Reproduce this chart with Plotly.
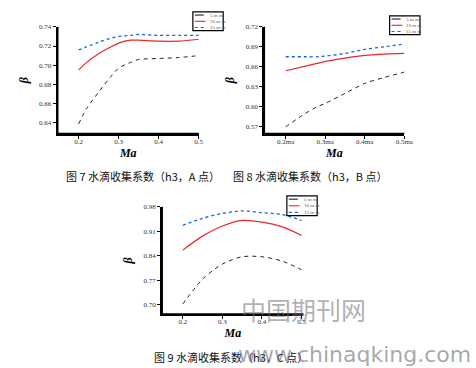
import plotly.graph_objects as go

W, H = 476, 368

# ---------------- data ----------------
series_names = ["5 m m", "10 m m", "15 m m"]

ma_1 = [0.20, 0.22, 0.25, 0.28, 0.30, 0.33, 0.35, 0.40, 0.45, 0.50]
a_5mm = [0.639, 0.655, 0.672, 0.688, 0.697, 0.703, 0.706, 0.707, 0.708, 0.710]
a_10mm = [0.695, 0.703, 0.712, 0.719, 0.723, 0.726, 0.726, 0.725, 0.725, 0.727]
a_15mm = [0.716, 0.719, 0.724, 0.728, 0.730, 0.731, 0.732, 0.731, 0.731, 0.731]

ma_2 = [0.20, 0.25, 0.28, 0.30, 0.35, 0.40, 0.45, 0.50]
b_5mm = [0.570, 0.590, 0.600, 0.605, 0.620, 0.635, 0.644, 0.652]
b_10mm = [0.654, 0.661, 0.665, 0.668, 0.673, 0.677, 0.679, 0.680]
b_15mm = [0.675, 0.675, 0.675, 0.676, 0.680, 0.686, 0.690, 0.694]

ma_3 = [0.20, 0.25, 0.30, 0.35, 0.40, 0.45, 0.50]
c_5mm = [0.702, 0.773, 0.816, 0.837, 0.837, 0.825, 0.800]
c_10mm = [0.856, 0.896, 0.925, 0.941, 0.936, 0.923, 0.898]
c_15mm = [0.927, 0.947, 0.961, 0.968, 0.963, 0.958, 0.941]

x_ticks = [0.2, 0.3, 0.4, 0.5]
x_labels_1 = ["0.2", "0.3", "0.4", "0.5"]
x_labels_2 = ["0.2ma", "0.3ma", "0.4ma", "0.5ma"]
y_ticks_1 = [0.64, 0.66, 0.68, 0.70, 0.72, 0.74]
y_ticks_2 = [0.57, 0.60, 0.63, 0.66, 0.69, 0.72]
y_ticks_3 = [0.70, 0.77, 0.84, 0.91, 0.98]

captions = ["图 7 水滴收集系数（h3，A 点）", "图 8 水滴收集系数（h3，B 点）", "图 9 水滴收集系数（h3，C 点）"]

# ---------------- styles ----------------
styles = [dict(color="#222222", dash="4px,4px", width=1.0),
          dict(color="#e8282e", dash="solid", width=1.2),
          dict(color="#1565d8", dash="dot", width=1.3)]

SERIF = "Liberation Serif"
CJK = "Noto Sans CJK SC"

fig = go.Figure()

panels = [
    ("x", "y", ma_1, [a_5mm, a_10mm, a_15mm]),
    ("x2", "y2", ma_2, [b_5mm, b_10mm, b_15mm]),
    ("x3", "y3", ma_3, [c_5mm, c_10mm, c_15mm]),
]
for xa, ya, xs, ys_list in panels:
    for name, ys, st in zip(series_names, ys_list, styles):
        fig.add_trace(go.Scatter(x=xs, y=ys, mode="lines", name=name,
                                 line=dict(shape="spline", smoothing=0.8, **st),
                                 xaxis=xa, yaxis=ya, showlegend=False))

def px_x(p):
    return p / W

def px_y(p):
    return 1 - p / H

# axes domains (pixels)
dom = {
    1: (59, 203, 23, 131),
    2: (270, 413, 23, 131),
    3: (165.7, 310, 205, 313.3),
}

axis_common = dict(showline=True, linecolor="#000000", linewidth=2, showgrid=False,
                   zeroline=False, ticks="outside", ticklen=3, tickwidth=1.2,
                   tickcolor="#000000", tickfont=dict(family=SERIF, size=7, color="#333"))

def xaxis(i, rng, labels):
    x0, x1, y0, y1 = dom[i]
    return dict(domain=[px_x(x0), px_x(x1)], range=rng, tickvals=x_ticks,
                ticktext=labels, anchor="y" if i == 1 else f"y{i}",
                ticklabelstandoff=-3,
                title=dict(text="<b><i>Ma</i></b>", font=dict(family=SERIF, size=12, color="black"),
                           standoff=0),
                **axis_common)

def yaxis(i, rng, ticks):
    x0, x1, y0, y1 = dom[i]
    return dict(domain=[px_y(y1), px_y(y0)], range=rng, tickvals=ticks,
                tickformat=".2f", anchor="x" if i == 1 else f"x{i}",
                title=dict(text="<b><i>β</i></b>", font=dict(family=SERIF, size=12, color="black"),
                           standoff=8),
                **axis_common)

fig.update_layout(
    width=W, height=H, margin=dict(l=0, r=0, t=0, b=0),
    paper_bgcolor="white", plot_bgcolor="white", showlegend=False,
    xaxis=xaxis(1, [0.148, 0.5], x_labels_1),
    yaxis=yaxis(1, [0.629, 0.74], y_ticks_1),
    xaxis2=xaxis(2, [0.146, 0.5], x_labels_2),
    yaxis2=yaxis(2, [0.5597, 0.72], y_ticks_2),
    xaxis3=xaxis(3, [0.148, 0.505], x_labels_1),
    yaxis3=yaxis(3, [0.6735, 0.98], y_ticks_3),
)

shapes = []
annotations = []

# axis frame lines (left and bottom edges of each panel, in page coordinates)
for (ax0, ax1, ay0, ay1) in dom.values():
    shapes.append(dict(type="line", xref="paper", yref="paper",
                       x0=px_x(ax0), x1=px_x(ax1), y0=px_y(ay1), y1=px_y(ay1),
                       line=dict(color="black", width=1.5), layer="above"))
    shapes.append(dict(type="line", xref="paper", yref="paper",
                       x0=px_x(ax0), x1=px_x(ax0), y0=px_y(ay1), y1=px_y(ay0),
                       line=dict(color="black", width=1.5), layer="above"))

# custom small legends (box pixel positions)
legend_boxes = [(197, 8, 228, 27), (398, 12, 429, 31), (293, 194, 324, 214)]
for (bx0, by0, bx1, by1) in legend_boxes:
    shapes.append(dict(type="rect", xref="paper", yref="paper",
                       x0=px_x(bx0), x1=px_x(bx1), y0=px_y(by1), y1=px_y(by0),
                       line=dict(color="black", width=1.2), fillcolor="white", layer="above"))
    step = (by1 - by0) / 3
    for k, (name, st) in enumerate(zip(series_names, styles)):
        yy = by0 + step * (k + 0.5)
        shapes.append(dict(type="line", xref="paper", yref="paper",
                           x0=px_x(bx0 + 2), x1=px_x(bx0 + 13), y0=px_y(yy), y1=px_y(yy),
                           line=dict(color=st["color"], dash="dash" if k == 0 else st["dash"], width=1.1),
                           layer="above"))
        annotations.append(dict(text=name, xref="paper", yref="paper", x=px_x(bx0 + 15), y=px_y(yy),
                                xanchor="left", yanchor="middle", showarrow=False,
                                font=dict(family=SERIF, size=5, color="#555")))

# captions
cap_pos = [(146, 174), (317, 174), (236, 357)]
for text, (cx, cy) in zip(captions, cap_pos):
    annotations.append(dict(text=text, xref="paper", yref="paper", x=px_x(cx), y=px_y(cy),
                            xanchor="center", yanchor="middle", showarrow=False,
                            font=dict(family=CJK, size=11, color="#111")))

# watermark
annotations.append(dict(text="中国期刊网", xref="paper", yref="paper", x=px_x(310), y=px_y(308),
                        xanchor="center", yanchor="middle", showarrow=False,
                        font=dict(family=CJK, size=25, color="rgba(110,110,110,0.55)")))
annotations.append(dict(text="www.chinaqking.com", xref="paper", yref="paper", x=px_x(362), y=px_y(354),
                        xanchor="center", yanchor="middle", showarrow=False,
                        font=dict(family="DejaVu Sans", size=22, color="rgba(110,110,110,0.6)")))

fig.update_layout(shapes=shapes, annotations=annotations)

fig.write_html("out.html", config={"displayModeBar": False},
               post_script="document.body.style.margin='0';document.body.style.overflow='hidden';")
